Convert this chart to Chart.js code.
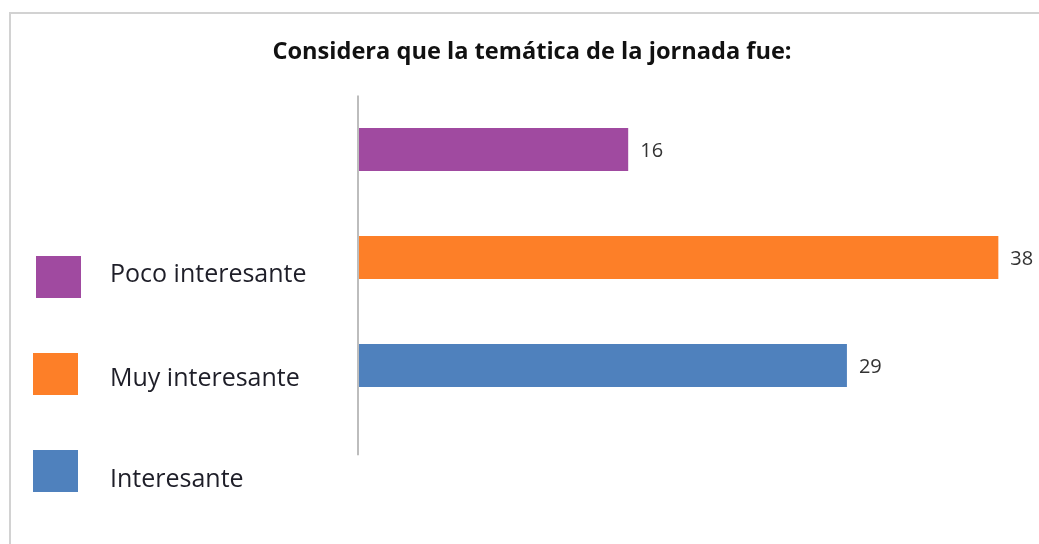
<!DOCTYPE html>
<html>
<head>
<meta charset="utf-8">
<script src="https://cdn.jsdelivr.net/npm/chart.js@4"></script>
<style>
  html, body { margin: 0; padding: 0; background: #fff; }
  #wrap { position: relative; width: 1039px; height: 544px; }
</style>
</head>
<body>
<div id="wrap"><canvas id="c" width="1039" height="544"></canvas></div>
<script>
const titleText = 'Considera que la temática de la jornada fue:';
const categories = ['Poco interesante', 'Muy interesante', 'Interesante'];
const values = [16, 38, 29];
const barColors = ['#A04AA0', '#FD7F28', '#4F81BD'];
const xMax = 40;

const FONT = '"Open Sans", Lato, sans-serif';

const framePlugin = {
  id: 'frame',
  beforeDraw(chart) {
    const ctx = chart.ctx;
    ctx.save();
    ctx.fillStyle = '#fff';
    ctx.fillRect(0, 0, chart.width, chart.height);
    ctx.strokeStyle = '#d2d2d2';
    ctx.lineWidth = 2;
    ctx.beginPath();
    ctx.moveTo(10, chart.height + 5);
    ctx.lineTo(10, 13);
    ctx.lineTo(chart.width + 5, 13);
    ctx.stroke();
    ctx.restore();
  }
};

const axisPlugin = {
  id: 'axisLine',
  afterDatasetsDraw(chart) {
    const ctx = chart.ctx;
    const a = chart.chartArea;
    const yScale = chart.scales.y;
    const band = (a.bottom - a.top) / yScale.getLabels().length;
    const x = chart.scales.x.getPixelForValue(0);
    ctx.save();
    ctx.strokeStyle = '#bdbdbd';
    ctx.lineWidth = 2;
    ctx.beginPath();
    ctx.moveTo(x - 1, a.top);
    ctx.lineTo(x - 1, a.bottom + band * 0.33);
    ctx.stroke();
    ctx.restore();
  }
};

const valueLabelPlugin = {
  id: 'valueLabels',
  afterDatasetsDraw(chart) {
    const ctx = chart.ctx;
    const meta = chart.getDatasetMeta(0);
    ctx.save();
    ctx.font = '20px ' + FONT;
    ctx.fillStyle = '#333';
    ctx.textAlign = 'left';
    ctx.textBaseline = 'middle';
    meta.data.forEach((bar, i) => {
      ctx.fillText(String(values[i]), bar.x + 12, bar.y + 2);
    });
    ctx.restore();
  }
};

const legendPlugin = {
  id: 'sideLegend',
  afterDraw(chart) {
    const ctx = chart.ctx;
    const boxX = [36, 33, 33];
    const boxY = [256, 353, 450];
    const textY = [275, 379, 480];
    ctx.save();
    ctx.font = '25px ' + FONT;
    ctx.textBaseline = 'middle';
    ctx.textAlign = 'left';
    categories.forEach((lab, i) => {
      ctx.fillStyle = barColors[i];
      ctx.fillRect(boxX[i], boxY[i], 45, 42);
      ctx.fillStyle = '#1e1e28';
      ctx.fillText(lab, 110, textY[i]);
    });
    ctx.restore();
  }
};

new Chart(document.getElementById('c'), {
  type: 'bar',
  data: {
    labels: categories,
    datasets: [{
      data: values,
      backgroundColor: barColors,
      borderWidth: 0,
      categoryPercentage: 1,
      barPercentage: 0.4
    }]
  },
  options: {
    indexAxis: 'y',
    responsive: false,
    animation: false,
    devicePixelRatio: 1,
    layout: { padding: { left: 32, right: 7, top: 0, bottom: 124.5 } },
    scales: {
      x: { display: false, min: 0, max: xMax },
      y: {
        display: true,
        ticks: { display: false },
        grid: { display: false, drawTicks: false },
        border: { display: false },
        afterFit(scale) { scale.width = 327; }
      }
    },
    plugins: {
      legend: { display: false },
      tooltip: { enabled: false },
      title: {
        display: true,
        text: titleText,
        color: '#111',
        font: { family: FONT, size: 23.6, weight: 'bold', lineHeight: 1.2 },
        padding: { top: 37.8, bottom: 29.4 }
      }
    }
  },
  plugins: [framePlugin, axisPlugin, valueLabelPlugin, legendPlugin]
});
</script>
</body>
</html>
